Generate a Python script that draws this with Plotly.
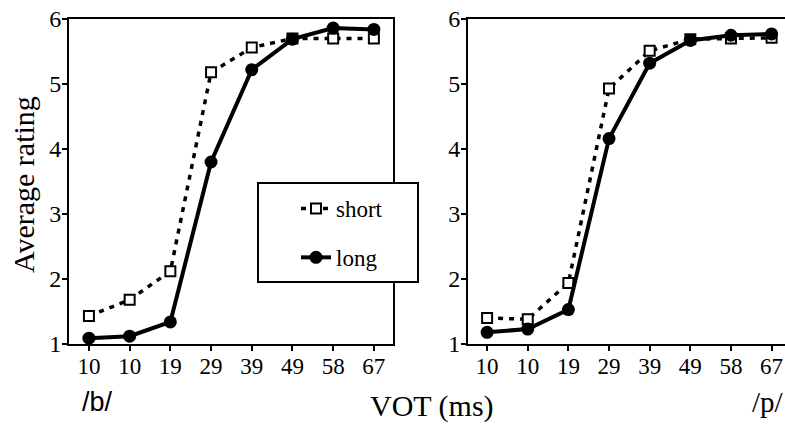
import plotly.graph_objects as go

vot_labels = ["10", "10", "19", "29", "39", "49", "58", "67"]
steps = list(range(len(vot_labels)))

b_short = [1.43, 1.68, 2.12, 5.18, 5.56, 5.70, 5.70, 5.70]
b_long = [1.09, 1.12, 1.34, 3.80, 5.22, 5.69, 5.86, 5.84]
p_short = [1.40, 1.38, 1.94, 4.93, 5.51, 5.69, 5.70, 5.71]
p_long = [1.18, 1.23, 1.53, 4.16, 5.32, 5.67, 5.75, 5.77]

W, H = 785, 426
SERIF = "Liberation Serif"

def px_x(v):
    return v / W

def px_y(v):
    return 1 - v / H

fig = go.Figure()

short_style = dict(
    mode="lines+markers",
    line=dict(color="black", width=3.5, dash="5px,6px"),
    marker=dict(symbol="square", size=10, color="white",
                line=dict(color="black", width=2)),
    cliponaxis=False,
)
long_style = dict(
    mode="lines+markers",
    line=dict(color="black", width=4),
    marker=dict(symbol="circle", size=13, color="black"),
    cliponaxis=False,
)

fig.add_trace(go.Scatter(x=steps, y=b_short, name="short", legendgroup="s",
                         xaxis="x", yaxis="y", **short_style))
fig.add_trace(go.Scatter(x=steps, y=b_long, name="long", legendgroup="l",
                         xaxis="x", yaxis="y", **long_style))
fig.add_trace(go.Scatter(x=steps, y=p_short, name="short", legendgroup="s",
                         showlegend=False, xaxis="x2", yaxis="y2", **short_style))
fig.add_trace(go.Scatter(x=steps, y=p_long, name="long", legendgroup="l",
                         showlegend=False, xaxis="x2", yaxis="y2", **long_style))

xcommon = dict(
    tickmode="array", tickvals=steps, ticktext=vot_labels,
    ticks="outside", ticklen=5, tickwidth=2, tickcolor="black",
    showline=True, linecolor="black", linewidth=2,
    showgrid=False, zeroline=False, automargin=False,
    ticklabelstandoff=-5,
    tickfont=dict(family=SERIF, size=23, color="black"),
)
ycommon = dict(
    range=[1, 6], tickmode="array", tickvals=[1, 2, 3, 4, 5, 6],
    ticks="outside", ticklen=5, tickwidth=2, tickcolor="black",
    showline=True, linecolor="black", linewidth=2,
    showgrid=False, zeroline=False, automargin=False,
    ticklabelstandoff=-4,
    tickfont=dict(family=SERIF, size=24, color="black"),
    domain=[px_y(344), px_y(19)],
)

fig.update_layout(
    width=W, height=H,
    margin=dict(l=0, r=0, t=0, b=0),
    paper_bgcolor="white", plot_bgcolor="white",
    font=dict(family=SERIF, color="black"),
    xaxis=dict(domain=[px_x(69), px_x(393)], range=[-0.49, 7.47],
               anchor="y", mirror=True, **xcommon),
    yaxis=dict(anchor="x", mirror=True, **ycommon),
    xaxis2=dict(domain=[px_x(468), 1.0], range=[-0.47, 7.33],
                anchor="y2", mirror=True, **xcommon),
    yaxis2=dict(anchor="x2", mirror=False, **ycommon),
    showlegend=True,
    legend=dict(
        x=px_x(296), y=px_y(187), xanchor="left", yanchor="top",
        bgcolor="rgba(0,0,0,0)", borderwidth=0,
        font=dict(family=SERIF, size=23, color="black"),
        traceorder="grouped", tracegroupgap=16,
    ),
    shapes=[dict(type="rect", xref="paper", yref="paper",
                 x0=px_x(258), x1=px_x(418), y0=px_y(282), y1=px_y(183),
                 line=dict(color="black", width=2), fillcolor="white",
                 layer="above")],
    annotations=[
        dict(text="Average rating", xref="paper", yref="paper",
             x=px_x(24), y=px_y(185), xanchor="center", yanchor="middle",
             textangle=-90, showarrow=False,
             font=dict(family=SERIF, size=30, color="black")),
        dict(text="VOT (ms)", xref="paper", yref="paper",
             x=px_x(432), y=px_y(406), xanchor="center", yanchor="middle",
             showarrow=False,
             font=dict(family=SERIF, size=30, color="black")),
        dict(text="/b/", xref="paper", yref="paper",
             x=px_x(97), y=px_y(402), xanchor="center", yanchor="middle",
             showarrow=False,
             font=dict(family="Liberation Sans", size=27, color="black")),
        dict(text="/p/", xref="paper", yref="paper",
             x=px_x(768), y=px_y(402), xanchor="center", yanchor="middle",
             showarrow=False,
             font=dict(family=SERIF, size=29, color="black")),
    ],
)

fig.write_html("out.html", config={"displayModeBar": False},
               post_script="document.body.style.margin='0';document.body.style.overflow='hidden';")
